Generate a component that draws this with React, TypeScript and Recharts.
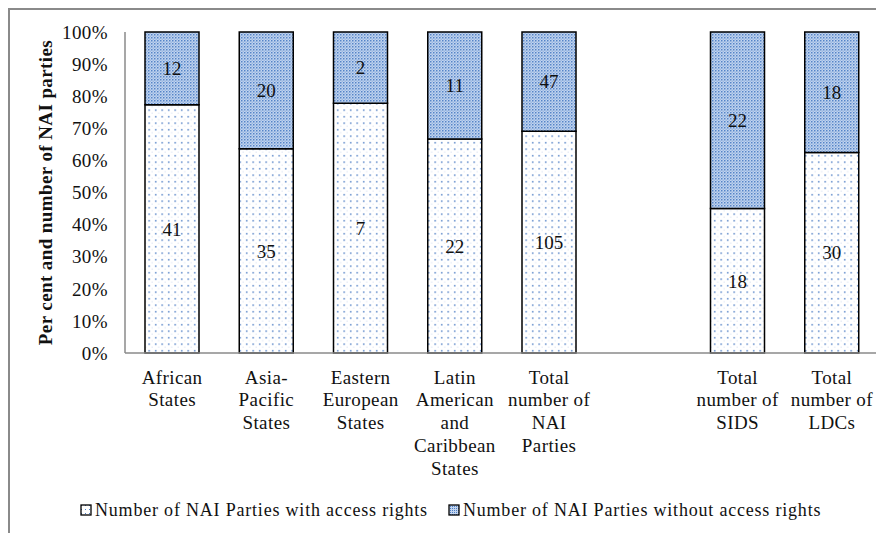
import React from 'react'
import { BarChart, Bar, XAxis, YAxis, Legend, LabelList, Label } from 'recharts'

const categories = [
  'African\nStates',
  'Asia-\nPacific\nStates',
  'Eastern\nEuropean\nStates',
  'Latin\nAmerican\nand\nCaribbean\nStates',
  'Total\nnumber of\nNAI\nParties',
  '',
  'Total\nnumber of\nSIDS',
  'Total\nnumber of\nLDCs',
]
const withAccess = [41, 35, 7, 22, 105, null, 18, 30]
const withoutAccess = [12, 20, 2, 11, 47, null, 22, 18]
const yTicks = [0, 0.1, 0.2, 0.3, 0.4, 0.5, 0.6, 0.7, 0.8, 0.9, 1]

const seriesNames = {
  with: 'Number of NAI Parties with access rights',
  without: 'Number of NAI Parties without access rights',
}

const rows = categories.map((name, i) => ({ name, with: withAccess[i], without: withoutAccess[i] }))

const FONT = '"Liberation Serif", "Times New Roman", serif'

function CategoryTick({ x, y, payload }: any) {
  const lines = String(payload.value).split('\n')
  return (
    <text x={x} y={y + 16} textAnchor="middle" fontFamily={FONT} fontSize={19} letterSpacing={0.4} fill="#111">
      {lines.map((l, i) => (
        <tspan key={i} x={x} dy={i === 0 ? '0.355em' : 22.7}>{l}</tspan>
      ))}
    </text>
  )
}

function YTitle({ viewBox }: any) {
  const cx = 35
  const cy = viewBox.y + viewBox.height / 2
  return (
    <text x={cx} y={cy} transform={`rotate(-90, ${cx}, ${cy})`} textAnchor="middle" dominantBaseline="central"
      fontFamily={FONT} fontSize={19} letterSpacing={0.4} fontWeight="bold" fill="#111">
      Per cent and number of NAI parties
    </text>
  )
}

function LegendBox() {
  const item = (fill: string, text: string, gap: number) => (
    <span style={{ display: 'inline-flex', alignItems: 'center', marginRight: gap }}>
      <svg width={13} height={12} style={{ marginRight: 2 }}>
        <rect x={1} y={1} width={10} height={10} fill={fill} stroke="#000" strokeWidth={1.3} />
      </svg>
      {text}
    </span>
  )
  return (
    <div style={{ height: 20, paddingLeft: 70, fontFamily: FONT, fontSize: 18, letterSpacing: 0.8, color: '#111', whiteSpace: 'nowrap', display: 'flex', alignItems: 'center' }}>
      {item('url(#dotsLegend)', seriesNames.with, 20)}
      {item('url(#checkLegend)', seriesNames.without, 0)}
    </div>
  )
}

export default function App() {
  return (
    <div style={{ position: 'relative', width: 874, height: 523, borderLeft: '2px solid #8a8a8a', borderTop: '2px solid #8a8a8a' }}>
      <svg width={0} height={0} style={{ position: 'absolute' }}>
        <defs>
          <pattern id="dotsLegend" width={4} height={4} patternUnits="userSpaceOnUse">
            <rect width={4} height={4} fill="#fff" />
            <rect x={1} y={1} width={1} height={1} fill="#4f7fc4" />
          </pattern>
          <pattern id="checkLegend" width={2} height={2} patternUnits="userSpaceOnUse">
            <rect width={2} height={2} fill="#c3d5ef" />
            <rect width={1} height={1} fill="#4d7fc6" />
          </pattern>
        </defs>
      </svg>
      <BarChart width={874} height={523} data={rows} stackOffset="expand"
        margin={{ top: 22, right: 5, bottom: 13, left: 0 }} style={{ fontFamily: FONT }}>
        <defs>
          <pattern id="dots" width={6.5} height={6.5} patternUnits="userSpaceOnUse">
            <rect width={6.5} height={6.5} fill="#fff" />
            <rect x={2} y={2} width={1.4} height={1.4} fill="#3f73bf" />
            <rect x={5.2} y={5.2} width={1} height={1} fill="#cfdcf0" />
          </pattern>
          <pattern id="check" width={3} height={3} patternUnits="userSpaceOnUse">
            <rect width={3} height={3} fill="#c2d4ee" />
            <rect width={1.5} height={1.5} fill="#5584c8" />
            <rect x={1.5} y={1.5} width={1.5} height={1.5} fill="#9bb8e3" />
          </pattern>
        </defs>
        <XAxis dataKey="name" interval={0} tickLine={false} axisLine={{ stroke: '#8a8a8a', strokeWidth: 1.5 }}
          height={147} tick={<CategoryTick />} />
        <YAxis domain={[0, 1]} ticks={yTicks} tickFormatter={(v: number) => `${Math.round(v * 100)}%`}
          width={115} tickLine={false} tickSize={0} tickMargin={17}
          axisLine={{ stroke: '#8a8a8a', strokeWidth: 1.5 }}
          tick={{ fontFamily: FONT, fontSize: 19, letterSpacing: 0.4, fill: '#111' }}>
          <Label content={<YTitle />} />
        </YAxis>
        <Legend verticalAlign="bottom" content={<LegendBox />} />
        <Bar dataKey="with" stackId="a" name={seriesNames.with} fill="url(#dots)" stroke="#000" strokeWidth={1.5}
          barSize={54} isAnimationActive={false}>
          <LabelList dataKey="with" position="center" fill="#111" fontSize={19} fontFamily={FONT}
            formatter={(v: any) => (v ? v : '')} />
        </Bar>
        <Bar dataKey="without" stackId="a" name={seriesNames.without} fill="url(#check)" stroke="#000" strokeWidth={1.5}
          barSize={54} isAnimationActive={false}>
          <LabelList dataKey="without" position="center" fill="#111" fontSize={19} fontFamily={FONT}
            formatter={(v: any) => (v ? v : '')} />
        </Bar>
      </BarChart>
    </div>
  )
}
